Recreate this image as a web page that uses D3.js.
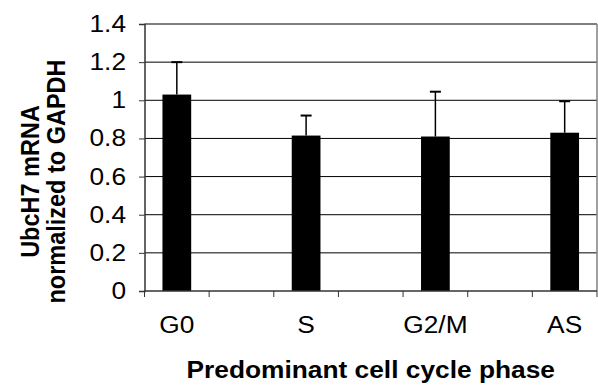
<!DOCTYPE html>
<html>
<head>
<meta charset="utf-8">
<script src="https://cdn.jsdelivr.net/npm/d3@7"></script>
<style>
  body { margin: 0; background: #fff; }
  svg { display: block; font-family: Arial, "Liberation Sans", sans-serif; }
</style>
</head>
<body>
<div id="chart"></div>
<script>
// categories (empty slots are the spacer columns of the original sheet)
const categories = ["G0", "", "S", "", "G2/M", "", "AS"];
const values = [1.03, null, 0.815, null, 0.81, null, 0.83];
const errors = [0.17, null, 0.105, null, 0.235, null, 0.165];
const yTicks = [0, 0.2, 0.4, 0.6, 0.8, 1, 1.2, 1.4];

const width = 598;
const height = 386;
const margin = { top: 24, right: 1, bottom: 95, left: 144.5 };
const fontSize = 23.5;
const stretch = "scale(1.12,1)";   // the original figure is stretched sideways

const svg = d3.select("#chart")
              .append("svg")
              .attr("width", width)
              .attr("height", height);

const x = d3.scaleBand()
            .domain(d3.range(categories.length))
            .range([margin.left, width - margin.right])
            .paddingInner(0)
            .paddingOuter(0);

const y = d3.scaleLinear()
            .domain([0, 1.4])
            .range([height - margin.bottom, margin.top]);

// gridlines
svg.append("g")
   .selectAll("line")
   .data(yTicks.slice(1))
   .join("line")
   .attr("x1", margin.left)
   .attr("x2", width - margin.right)
   .attr("y1", d => y(d))
   .attr("y2", d => y(d))
   .attr("stroke", "#000")
   .attr("stroke-width", 1);

// right border of the plot area
svg.append("line")
   .attr("x1", width - margin.right)
   .attr("x2", width - margin.right)
   .attr("y1", y(1.4))
   .attr("y2", y(0))
   .attr("stroke", "#808080")
   .attr("stroke-width", 1.5);

// bars
const barW = x.bandwidth() / 2.25;
const bars = categories.map((c, i) => ({ i, v: values[i], e: errors[i] }))
                       .filter(d => d.v !== null);

svg.append("g")
   .selectAll("rect")
   .data(bars)
   .join("rect")
   .attr("x", d => x(d.i) + (x.bandwidth() - barW) / 2)
   .attr("width", barW)
   .attr("y", d => y(d.v))
   .attr("height", d => y(0) - y(d.v))
   .attr("fill", "#000");

// error bars (upper only)
const err = svg.append("g").attr("stroke", "#000");
err.selectAll("line.v")
   .data(bars)
   .join("line")
   .attr("class", "v")
   .attr("x1", d => x(d.i) + x.bandwidth() / 2)
   .attr("x2", d => x(d.i) + x.bandwidth() / 2)
   .attr("y1", d => y(d.v))
   .attr("y2", d => y(d.v + d.e))
   .attr("stroke-width", 1.5);
err.selectAll("line.cap")
   .data(bars)
   .join("line")
   .attr("class", "cap")
   .attr("x1", d => x(d.i) + x.bandwidth() / 2 - 5.5)
   .attr("x2", d => x(d.i) + x.bandwidth() / 2 + 5.5)
   .attr("y1", d => y(d.v + d.e))
   .attr("y2", d => y(d.v + d.e))
   .attr("stroke-width", 2);

// y axis
const yAxis = svg.append("g")
   .attr("transform", `translate(${margin.left},0)`)
   .call(d3.axisLeft(y).tickValues(yTicks).tickSize(5.5).tickPadding(11)
           .tickFormat(d => d3.format("")(d)));
yAxis.select(".domain").attr("stroke", "#333").attr("stroke-width", 1.5);
yAxis.selectAll(".tick line").attr("stroke", "#333");
yAxis.selectAll("text")
     .attr("font-size", fontSize)
     .attr("font-family", "Arial, 'Liberation Sans', sans-serif")
     .attr("fill", "#000")
     .attr("transform", stretch);

// x axis: ticks at category boundaries, labels at category centres
const xAxisG = svg.append("g")
   .attr("transform", `translate(0,${y(0)})`);
xAxisG.append("line")
      .attr("x1", margin.left)
      .attr("x2", width - margin.right)
      .attr("stroke", "#333")
      .attr("stroke-width", 1.5);
xAxisG.selectAll("line.tk")
      .data(d3.range(categories.length + 1))
      .join("line")
      .attr("class", "tk")
      .attr("x1", i => i < categories.length ? x(i) : x.range()[1])
      .attr("x2", i => i < categories.length ? x(i) : x.range()[1])
      .attr("y1", 0)
      .attr("y2", 6)
      .attr("stroke", "#333");
xAxisG.selectAll("text")
      .data(categories.map((c, i) => ({ c, i })).filter(d => d.c))
      .join("text")
      .attr("transform", d => `translate(${x(d.i) + x.bandwidth() / 2},42) ${stretch}`)
      .attr("text-anchor", "middle")
      .attr("font-size", fontSize)
      .text(d => d.c);

// axis titles
svg.append("text")
   .attr("transform", `translate(${(margin.left + width - margin.right) / 2},378) ${stretch}`)
   .attr("text-anchor", "middle")
   .attr("font-size", fontSize)
   .attr("font-weight", "bold")
   .text("Predominant cell cycle phase");

const yTitle = svg.append("text")
   .attr("transform", `translate(0,${(y(0) + y(1.4)) / 2 + 24}) ${stretch} rotate(-90)`)
   .attr("text-anchor", "middle")
   .attr("font-size", fontSize)
   .attr("font-weight", "bold");
yTitle.append("tspan").attr("x", 0).attr("y", 35).text("UbcH7 mRNA");
yTitle.append("tspan").attr("x", 0).attr("y", 58).text("normalized to GAPDH");
</script>
</body>
</html>
